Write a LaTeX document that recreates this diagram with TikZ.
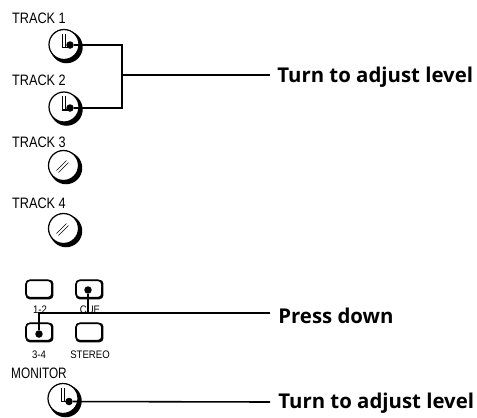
\documentclass[tikz,border=0pt]{standalone}
\usepackage{fontspec}
\usetikzlibrary{calc}
\setmainfont{Liberation Sans}
\newfontfamily\boldlabel{Open Sans}
\tikzset{
    knobface/.style = {circle, draw, line width = 0.7pt, fill = white, minimum size = 0.6cm, inner sep = 0pt},
    knobshadow/.style = {circle, fill = black, minimum size = 0.65cm, inner sep = 0pt},
    knobdot/.style = {circle, fill = black, minimum size = 0.15cm, inner sep = 0pt},
    pushbtn/.style = {draw, line width = 0.9pt, rounded corners = 0.08cm, fill = white, minimum width = 0.52cm, minimum height = 0.35cm, inner sep = 0pt},
    btnshadow/.style = {fill = black, rounded corners = 0.08cm, minimum width = 0.56cm, minimum height = 0.39cm, inner sep = 0pt},
    smalltag/.style = {inner sep = 0pt, font = \fontsize{8.6}{9}\selectfont, xscale = 0.84},
    tinytag/.style = {inner sep = 0pt, font = \fontsize{6.2}{7}\selectfont, xscale = 0.88},
    calltext/.style = {inner sep = 0pt, anchor = west, font = \fontsize{11.6}{12}\boldlabel\bfseries},
    leadline/.style = {line width = 0.9pt}
}

\begin{document}
\begin{tikzpicture}[x = 0.02cm, y = -0.02cm]
    \useasboundingbox (0,0) rectangle (477,417);
    % knobs
    \foreach \name/\x/\y in {one/64/44.5, two/64/107, three/63.5/165.5, four/63.5/228.5, mon/63/398.5}
        {
            \node[knobshadow] at ({\x+2.5},{\y+2.5}) {};
            \node[knobface] (\name) at (\x,\y) {};
        }
    % pointers
    \foreach \name/\dy in {one/0.5, two/1, mon/3}
        {
            \draw[line width = 0.5pt] ($(\name.center)+(-2,3)$) -- ++(0,-14)
                                      ($(\name.center)+(1,3)$) -- ++(0,-14);
            \draw[line width = 1pt] ($(\name.center)+(-2,3)$) -- ++(8,0);
            \node[knobdot] (dot\name) at ($(\name.center)+(6,\dy)$) {};
        }
    \foreach \name in {three, four}
        {
            \draw[line width = 0.25pt] ($(\name.center)+(-7,5)$) -- ++(10,-10)
                                       ($(\name.center)+(-5,7)$) -- ++(10,-10);
        }
    % track labels
    \node[smalltag] (lblone) at (39,18) {TRACK 1};
    \node[smalltag] (lbltwo) at (39,80) {TRACK 2};
    \node[smalltag] (lblthree) at (39,142) {TRACK 3};
    \node[smalltag] (lblfour) at (39,203) {TRACK 4};
    \node[smalltag, xscale = 0.93] (lblmon) at (39,373) {MONITOR};
    % push buttons
    \foreach \x/\y in {39/289, 89/289, 39/332, 89/332}
        \node[btnshadow] at ({\x+0.5},{\y+0.5}) {};
    \node[pushbtn] (btnA) at (39,289) {};
    \node[pushbtn] (btnB) at (89,289) {};
    \node[pushbtn] (btnC) at (39,332) {};
    \node[pushbtn] (btnD) at (89,332) {};
    \node[tinytag] (lblA) at (40,310) {1-2};
    \node[tinytag] (lblB) at (90,310) {CUE};
    \node[tinytag] (lblC) at (39,355) {3-4};
    \node[tinytag] (lblD) at (90,355) {STEREO};
    \node[knobdot] (dotB) at (88,290) {};
    \node[knobdot] (dotC) at (39,334) {};
    % callouts
    \node[calltext] (turnA) at (277,77) {Turn to adjust level};
    \node[calltext] (press) at (278,316) {Press down};
    \node[calltext] (turnB) at (278,403) {Turn to adjust level};
    \coordinate (hubA) at (122,45);
    \coordinate (hubB) at (122,108);
    \coordinate (hubC) at (122,75);
    \coordinate (endA) at (270,75);
    \coordinate (pressA) at (39,313);
    \coordinate (pressB) at (88,313);
    \coordinate (endP) at (270,313);
    \coordinate (endM) at (270,402);
    % leaders
    \draw[leadline] (dotone) -- (dotone -| hubA) -- (hubB) -- (dottwo);
    \draw[leadline] (hubC) -- (endA);
    \draw[line width = 0.6pt] (dotC) -- (pressA) -- (endP);
    \draw[line width = 0.6pt] (dotB) -- (pressB);
    \draw[leadline] (dotmon) -- (endM);
\end{tikzpicture}
\end{document}
